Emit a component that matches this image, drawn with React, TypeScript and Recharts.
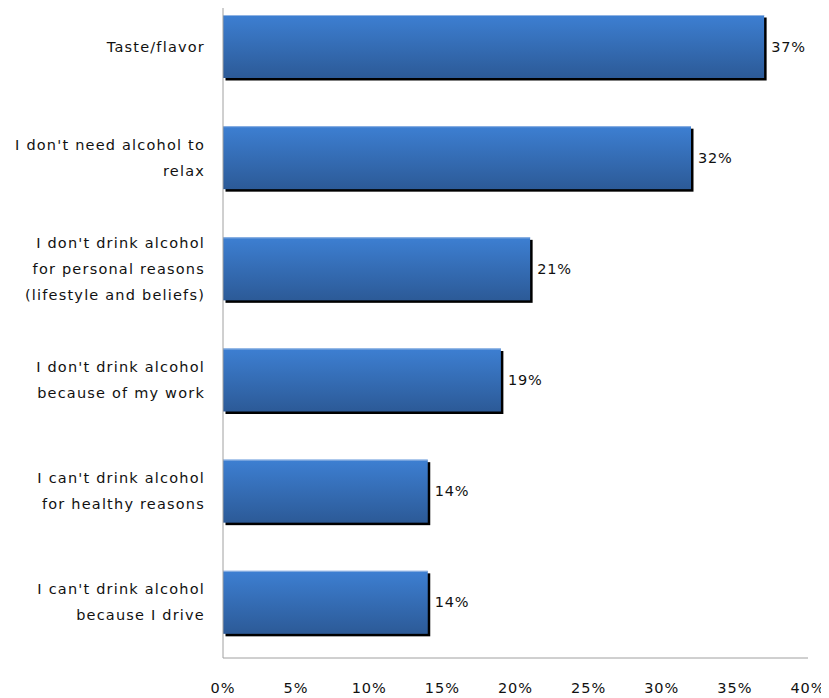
import { Bar, BarChart, LabelList, XAxis, YAxis } from "recharts";

const categories = [
  "Taste/flavor",
  "I don't need alcohol to\nrelax",
  "I don't drink alcohol\nfor personal reasons\n(lifestyle and beliefs)",
  "I don't drink alcohol\nbecause of my work",
  "I can't drink alcohol\nfor healthy reasons",
  "I can't drink alcohol\nbecause I drive",
];
const values = [37, 32, 21, 19, 14, 14];
const xTicks = [0, 5, 10, 15, 20, 25, 30, 35, 40];

const data = categories.map((name, i) => ({ name, value: values[i] }));

const FONT = "DejaVu Sans, Verdana, sans-serif";

function CategoryTick({ x, y, payload }: any) {
  const lines = String(payload.value).split("\n");
  const lh = 26;
  const start = y - ((lines.length - 1) * lh) / 2;
  return (
    <text
      x={x}
      y={start}
      textAnchor="end"
      dominantBaseline="central"
      fill="#111"
      fontSize={14.5}
      fontFamily={FONT}
      letterSpacing={1.2}
    >
      {lines.map((l, i) => (
        <tspan key={i} x={x} y={start + i * lh}>
          {l}
        </tspan>
      ))}
    </text>
  );
}

function ShadowBar({ x, y, width, height }: any) {
  if (!width || width <= 0) return null;
  return (
    <g>
      <rect x={x + 2.5} y={y + 2.5} width={width} height={height} fill="#000" />
      <rect x={x} y={y} width={width} height={height} fill="url(#barFill)" />
      <rect x={x} y={y} width={width} height={1} fill="#8fb3e3" />
    </g>
  );
}

export default function App() {
  return (
    <BarChart
      width={821}
      height={690}
      data={data}
      layout="vertical"
      margin={{ top: -17, right: 21, left: 0, bottom: 0 }}
      barSize={63}
    >
      <defs>
        <linearGradient id="barFill" x1="0" y1="0" x2="0" y2="1">
          <stop offset="0%" stopColor="#3d7fd2" />
          <stop offset="100%" stopColor="#2c5a97" />
        </linearGradient>
      </defs>
      <XAxis
        type="number"
        domain={[0, 40]}
        ticks={xTicks}
        tickFormatter={(v) => `${v}%`}
        height={40}
        tickSize={0}
        tickMargin={25}
        axisLine={{ stroke: "#a0a0a0", strokeWidth: 1 }}
        tickLine={false}
        tick={{ fill: "#111", fontSize: 14.5, fontFamily: FONT, letterSpacing: 1 }}
        interval={0}
      />
      <YAxis
        type="category"
        dataKey="name"
        width={215}
        tickSize={0}
        tickMargin={18}
        axisLine={{ stroke: "#a0a0a0", strokeWidth: 1 }}
        tickLine={false}
        tick={<CategoryTick />}
        interval={0}
      />
      <Bar dataKey="value" shape={<ShadowBar />} isAnimationActive={false}>
        <LabelList
          dataKey="value"
          position="right"
          offset={7}
          formatter={(v: any) => `${v}%`}
          fill="#111"
          fontSize={14.5}
          fontFamily={FONT}
          letterSpacing={0.8}
        />
      </Bar>
    </BarChart>
  );
}
